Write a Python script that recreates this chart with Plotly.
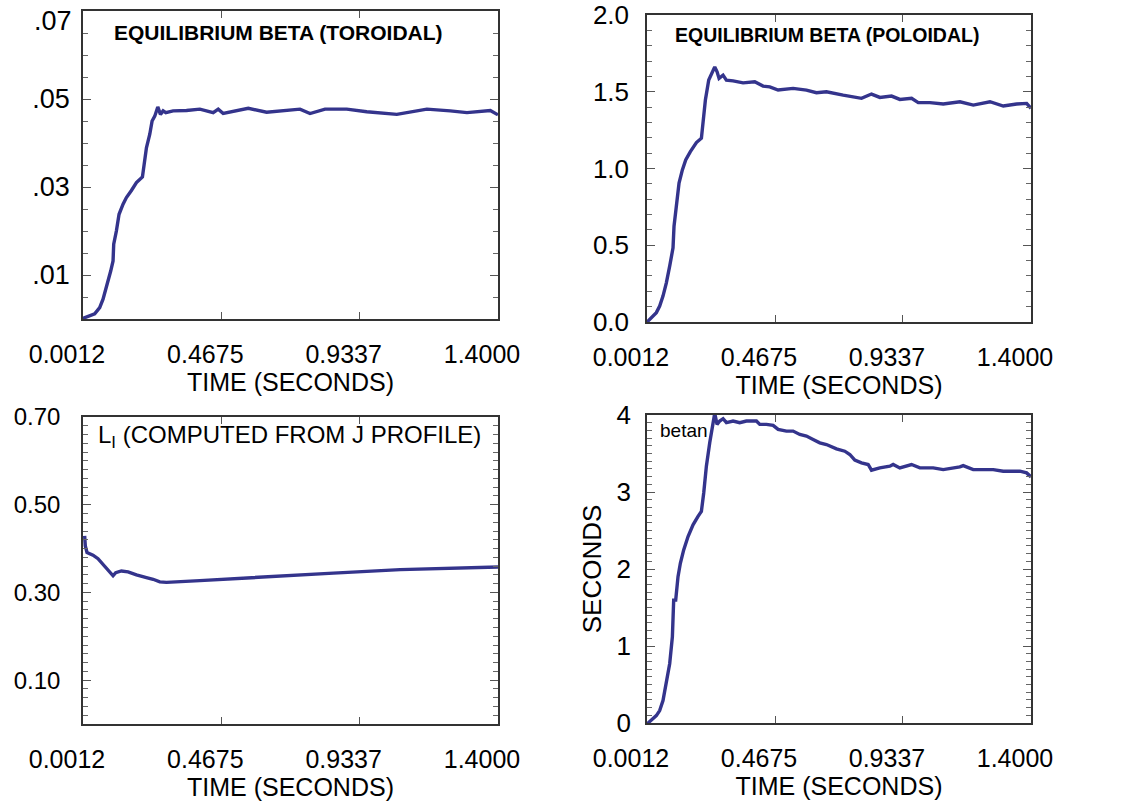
import plotly.graph_objects as go

# ---------------- data ----------------
t_tor = [0.0012, 0.0035, 0.0406, 0.0575, 0.0687, 0.0822, 0.0946, 0.1025, 0.1047, 0.1137,
         0.1227, 0.1362, 0.1475, 0.1644, 0.1813, 0.2015, 0.2094, 0.2150, 0.2263, 0.2341,
         0.2431, 0.2533, 0.2623, 0.2713, 0.2803, 0.3050, 0.3500, 0.3951, 0.4401, 0.4570,
         0.4738, 0.5582, 0.6201, 0.7326, 0.7664, 0.8170, 0.8902, 0.9577, 1.0590, 1.1603,
         1.2390, 1.2953, 1.3741, 1.4000]
beta_tor = [0.0000, 0.0002, 0.0012, 0.0026, 0.0045, 0.0075, 0.0109, 0.0132, 0.0170, 0.0200,
            0.0238, 0.0261, 0.0276, 0.0292, 0.0310, 0.0323, 0.0359, 0.0389, 0.0420, 0.0450,
            0.0461, 0.0482, 0.0465, 0.0473, 0.0469, 0.0473, 0.0474, 0.0477, 0.0469, 0.0477,
            0.0467, 0.0479, 0.0470, 0.0477, 0.0467, 0.0477, 0.0477, 0.0471, 0.0465, 0.0477,
            0.0473, 0.0469, 0.0474, 0.0464]

t_pol = [0.0012, 0.0048, 0.0352, 0.0474, 0.0595, 0.0717, 0.0838, 0.0960, 0.0996, 0.1081,
         0.1179, 0.1300, 0.1422, 0.1592, 0.1811, 0.1994, 0.2054, 0.2139, 0.2261, 0.2358,
         0.2480, 0.2565, 0.2637, 0.2783, 0.2904, 0.3147, 0.3512, 0.3937, 0.4241, 0.4484,
         0.4788, 0.5334, 0.5821, 0.6185, 0.6549, 0.7157, 0.7522, 0.7826, 0.8190, 0.8495,
         0.8920, 0.9224, 0.9650, 0.9893, 1.0318, 1.0804, 1.1412, 1.1898, 1.2505, 1.2991,
         1.3477, 1.3842, 1.4000]
beta_pol = [-0.01, 0.006, 0.061, 0.104, 0.169, 0.255, 0.364, 0.483, 0.623, 0.753,
            0.905, 0.991, 1.056, 1.110, 1.169, 1.197, 1.294, 1.446, 1.576, 1.619,
            1.662, 1.630, 1.587, 1.608, 1.576, 1.571, 1.558, 1.565, 1.537, 1.532,
            1.511, 1.522, 1.511, 1.494, 1.500, 1.478, 1.468, 1.457, 1.485, 1.463,
            1.472, 1.450, 1.457, 1.429, 1.429, 1.420, 1.435, 1.413, 1.435, 1.407,
            1.420, 1.424, 1.392]

t_li = [0.0068, 0.0090, 0.0147, 0.0350, 0.0518, 0.0687, 0.0822, 0.0946, 0.1025, 0.1115,
        0.1306, 0.1531, 0.1813, 0.2150, 0.2375, 0.2600, 0.2825, 0.3950, 0.6200, 0.8452,
        1.0703, 1.2953, 1.4000]
li = [0.429, 0.406, 0.391, 0.385, 0.377, 0.364, 0.352, 0.342, 0.338, 0.345,
      0.349, 0.347, 0.340, 0.334, 0.330, 0.324, 0.323, 0.327, 0.336, 0.344,
      0.352, 0.356, 0.358]

t_betan = [0.0012, 0.0050, 0.0352, 0.0474, 0.0595, 0.0717, 0.0838, 0.0936, 0.0984, 0.1057,
           0.1142, 0.1227, 0.1349, 0.1507, 0.1689, 0.1871, 0.1993, 0.2078, 0.2175, 0.2297,
           0.2382, 0.2479, 0.2564, 0.2661, 0.2783, 0.2905, 0.3147, 0.3390, 0.3634, 0.3998,
           0.4120, 0.4363, 0.4606, 0.4788, 0.5091, 0.5334, 0.5577, 0.5820, 0.6063, 0.6306,
           0.6549, 0.6913, 0.7217, 0.7400, 0.7582, 0.7825, 0.8068, 0.8189, 0.8493, 0.8858,
           0.8979, 0.9222, 0.9647, 0.9951, 1.0437, 1.0802, 1.1409, 1.1531, 1.1896, 1.2625,
           1.2990, 1.3597, 1.3840, 1.4000]
betan = [-0.02, 0.00, 0.096, 0.161, 0.291, 0.509, 0.770, 1.117, 1.596, 1.596,
         1.900, 2.074, 2.248, 2.422, 2.574, 2.683, 2.748, 2.987, 3.335, 3.639,
         3.813, 4.022, 3.878, 3.922, 3.952, 3.900, 3.922, 3.900, 3.922, 3.922,
         3.878, 3.878, 3.865, 3.813, 3.791, 3.791, 3.748, 3.726, 3.683, 3.639,
         3.617, 3.561, 3.530, 3.487, 3.413, 3.378, 3.357, 3.283, 3.313, 3.335,
         3.357, 3.313, 3.357, 3.313, 3.313, 3.291, 3.326, 3.343, 3.291, 3.291,
         3.270, 3.270, 3.248, 3.196]

x_tickvals = [0.0012, 0.4675, 0.9337, 1.4]
x_ticktext = ["0.0012", "0.4675", "0.9337", "1.4000"]

tor_tickvals = [0.01, 0.03, 0.05]
tor_ticktext = [".01", ".03", ".05"]
tor_top_label = ".07"   # top label drawn separately (pushed inside the figure)
pol_tickvals = [0.0, 0.5, 1.0, 1.5, 2.0]
pol_ticktext = ["0.0", "0.5", "1.0", "1.5", "2.0"]
li_tickvals = [0.1, 0.3, 0.5, 0.7]
li_ticktext = ["0.10", "0.30", "0.50", "0.70"]
bn_tickvals = [0, 1, 2, 3, 4]
bn_ticktext = ["0", "1", "2", "3", "4"]

# ---------------- styling ----------------
FONT = "Liberation Sans, Arial, Helvetica, sans-serif"
LINE_COLOR = "#34348c"
AX_COLOR = "#333333"
W, H = 1123, 801


def px_dom_x(a, b):
    return [a / W, b / W]


def px_dom_y(top, bottom):
    return [1 - bottom / H, 1 - top / H]


fig = go.Figure()
series = [(t_tor, beta_tor, "x", "y"), (t_pol, beta_pol, "x2", "y2"),
          (t_li, li, "x3", "y3"), (t_betan, betan, "x4", "y4")]
for xs, ys, xa, ya in series:
    fig.add_trace(go.Scatter(x=xs, y=ys, xaxis=xa, yaxis=ya, mode="lines",
                             line=dict(color=LINE_COLOR, width=3.4),
                             showlegend=False, hoverinfo="skip"))


def xaxis_cfg(dom, anchor):
    return dict(domain=dom, anchor=anchor, range=[0.0012, 1.4], automargin=False,
                tickmode="array", tickvals=x_tickvals, ticktext=x_ticktext,
                showline=True, linecolor=AX_COLOR, linewidth=1.5, mirror="allticks",
                ticks="inside", ticklen=7, tickwidth=1.2, tickcolor="#555555",
                showgrid=False, zeroline=False,
                tickfont=dict(family=FONT, size=25, color="black"),
                ticklabelstandoff=12, ticklabelshift=-16,
                title=dict(text="TIME (SECONDS)", standoff=6,
                           font=dict(family=FONT, size=25, color="black")))


def yaxis_cfg(dom, anchor, rng, tv, tt, minor_dt, fsize, standoff):
    return dict(domain=dom, anchor=anchor, range=rng, automargin=False,
                tickmode="array", tickvals=tv, ticktext=tt,
                showline=True, linecolor=AX_COLOR, linewidth=1.5, mirror="allticks",
                ticks="inside", ticklen=8, tickwidth=1.2, tickcolor="#555555",
                minor=dict(ticks="inside", ticklen=5, tickwidth=1, tickcolor="#666666",
                           tickmode="linear", tick0=0, dtick=minor_dt, showgrid=False),
                showgrid=False, zeroline=False,
                tickfont=dict(family=FONT, size=fsize, color="black"),
                ticklabelstandoff=standoff)


fig.update_layout(
    width=W, height=H, autosize=False,
    margin=dict(l=0, r=0, t=0, b=0, pad=0),
    paper_bgcolor="white", plot_bgcolor="white",
    font=dict(family=FONT, color="black"),
    xaxis=xaxis_cfg(px_dom_x(83, 498), "y"),
    yaxis=yaxis_cfg(px_dom_y(11, 319), "x", [0, 0.07], tor_tickvals, tor_ticktext, 0.005, 27, 6),
    xaxis2=xaxis_cfg(px_dom_x(647, 1031), "y2"),
    yaxis2=yaxis_cfg(px_dom_y(15, 322), "x2", [0, 2.0], pol_tickvals, pol_ticktext, 0.1, 26, 11),
    xaxis3=xaxis_cfg(px_dom_x(83, 498), "y3"),
    yaxis3=yaxis_cfg(px_dom_y(417, 724), "x3", [0, 0.70], li_tickvals, li_ticktext, 0.02, 24, 16),
    xaxis4=xaxis_cfg(px_dom_x(647, 1031), "y4"),
    yaxis4=yaxis_cfg(px_dom_y(415, 723), "x4", [0, 4.0], bn_tickvals, bn_ticktext, 0.1, 26, 9),
)
fig.update_layout(yaxis4_title=dict(text="SECONDS", standoff=7,
                                    font=dict(family=FONT, size=26, color="black")))

annotations = [
    dict(text="<b>EQUILIBRIUM BETA (TOROIDAL)</b>", x=112 / W, y=1 - 33 / H,
         xanchor="left", font=dict(family=FONT, size=21, color="black")),
    dict(text="<b>EQUILIBRIUM BETA (POLOIDAL)</b>", x=673 / W, y=1 - 35 / H,
         xanchor="left", font=dict(family=FONT, size=19.5, color="black")),
    dict(text="L<sub>I</sub> (COMPUTED FROM J PROFILE)", x=96 / W, y=1 - 436 / H,
         xanchor="left", font=dict(family=FONT, size=24, color="black")),
    dict(text="betan", x=658 / W, y=1 - 430 / H,
         xanchor="left", font=dict(family=FONT, size=19, color="black")),
    dict(text=tor_top_label, x=74 / W, y=1 - 21 / H,
         xanchor="right", font=dict(family=FONT, size=27, color="black")),
]
for a in annotations:
    fig.add_annotation(xref="paper", yref="paper", yanchor="middle",
                       showarrow=False, **a)

fig.write_html("out.html")
